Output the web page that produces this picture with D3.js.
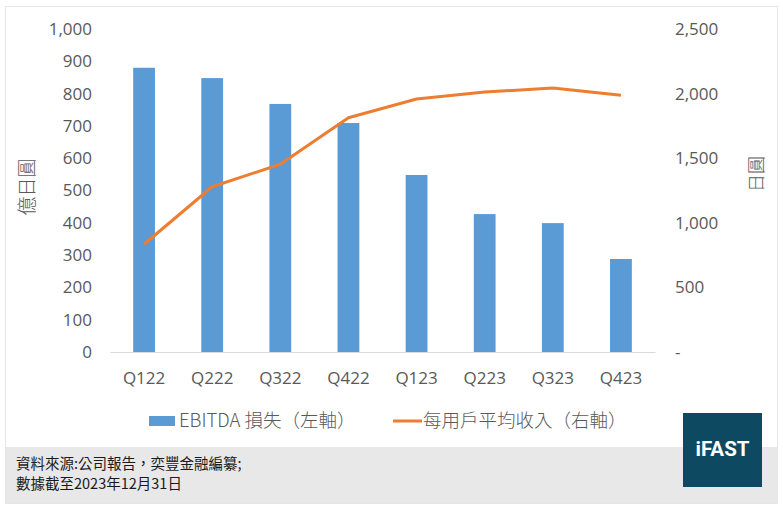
<!DOCTYPE html>
<html>
<head>
<meta charset="utf-8">
<script src="https://cdn.jsdelivr.net/npm/d3@7"></script>
<style>
    body { margin: 0; background: #ffffff; }
    svg { display: block; }
    .tickText { font-family: 'Open Sans', 'Liberation Sans', sans-serif; font-size: 17px; fill: #595959; }
    .cjkText { font-family: 'Noto Sans CJK TC', 'Noto Sans', sans-serif; fill: #595959; }
</style>
</head>
<body>
<div id="chart"></div>
<script>
// Chart values.
var quarters = ['Q122', 'Q222', 'Q322', 'Q422', 'Q123', 'Q223', 'Q323', 'Q423'],
    ebitdaLoss = [880, 848, 768, 709, 548, 427, 399, 288], // 億日圓, left axis
    arpu = [834, 1279, 1453, 1813, 1958, 2012, 2043, 1987], // 日圓, right axis
    leftTicks = [0, 100, 200, 300, 400, 500, 600, 700, 800, 900, 1000],
    rightTicks = [0, 500, 1000, 1500, 2000, 2500],
    seriesNames = ['EBITDA 損失（左軸）', '每用戶平均收入（右軸）'],
    leftTitle = '億日圓',
    rightTitle = '日圓',
    sourceLines = ['資料來源:公司報告，奕豐金融編纂;', '數據截至2023年12月31日'];

var width = 783,
    height = 507,
    colours = { bar: '#5b9bd5', line: '#ed7d31', text: '#595959', axis: '#d9d9d9' },
    plot = { left: 110, right: 655, top: 29, bottom: 352 };

var svg = d3.select( '#chart' )
    .append( 'svg' )
    .attr( 'width', width )
    .attr( 'height', height );

// Chart frame and grey source strip.
svg.append( 'rect' )
    .attr( 'x', 5.5 ).attr( 'y', 6.5 )
    .attr( 'width', 772 ).attr( 'height', 497 )
    .attr( 'fill', '#ffffff' )
    .attr( 'stroke', '#e6e6e6' );

svg.append( 'rect' )
    .attr( 'x', 6 ).attr( 'y', 447 )
    .attr( 'width', 771 ).attr( 'height', 56 )
    .attr( 'fill', '#e8e8e8' );

// Scales.
var x = d3.scaleBand()
    .domain( quarters )
    .range( [plot.left, plot.right] )
    .paddingInner( 0.68 )
    .paddingOuter( 0.34 );

var yLeft = d3.scaleLinear().domain( [0, 1000] ).range( [plot.bottom, plot.top] ),
    yRight = d3.scaleLinear().domain( [0, 2500] ).range( [plot.bottom, plot.top] );

// Bars.
svg.append( 'g' )
    .selectAll( 'rect' )
    .data( quarters )
    .join( 'rect' )
    .attr( 'x', q => x( q ) )
    .attr( 'y', ( q, i ) => yLeft( ebitdaLoss[i] ) )
    .attr( 'width', x.bandwidth() )
    .attr( 'height', ( q, i ) => yLeft( 0 ) - yLeft( ebitdaLoss[i] ) )
    .attr( 'fill', colours.bar );

// Axes.
var xAxis = svg.append( 'g' )
    .attr( 'transform', 'translate(0,' + plot.bottom + ')' )
    .call( d3.axisBottom( x ).tickSize( 0 ).tickPadding( 20 ) );
xAxis.select( '.domain' ).attr( 'stroke', colours.axis );

var leftAxis = svg.append( 'g' )
    .attr( 'transform', 'translate(92,0)' )
    .call( d3.axisLeft( yLeft ).tickValues( leftTicks ).tickSize( 0 ).tickPadding( 0 ).tickFormat( d3.format( ',' ) ) );

var rightAxis = svg.append( 'g' )
    .attr( 'transform', 'translate(675,0)' )
    .call( d3.axisRight( yRight ).tickValues( rightTicks ).tickSize( 0 ).tickPadding( 0 )
        .tickFormat( d => d === 0 ? ' -' : d3.format( ',' )( d ) ) );

[xAxis, leftAxis, rightAxis].forEach( function ( axis ) {
    axis.selectAll( 'text' ).attr( 'class', 'tickText' ).attr( 'font-family', null ).attr( 'font-size', null );
} );
leftAxis.select( '.domain' ).remove();
rightAxis.select( '.domain' ).remove();

// ARPU line.
var line = d3.line()
    .x( ( d, i ) => x( quarters[i] ) + x.bandwidth() / 2 )
    .y( d => yRight( d ) );

svg.append( 'path' )
    .datum( arpu )
    .attr( 'd', line )
    .attr( 'fill', 'none' )
    .attr( 'stroke', colours.line )
    .attr( 'stroke-width', 3 )
    .attr( 'stroke-linejoin', 'round' );

// Axis titles, rotated.
svg.append( 'text' )
    .attr( 'class', 'cjkText' )
    .attr( 'transform', 'translate(27,187) rotate(-90)' )
    .attr( 'text-anchor', 'middle' )
    .attr( 'dy', '0.35em' )
    .style( 'font-size', '19px' )
    .style( 'font-weight', 300 )
    .text( leftTitle );

svg.append( 'text' )
    .attr( 'class', 'cjkText' )
    .attr( 'transform', 'translate(757,174) rotate(-90)' )
    .attr( 'text-anchor', 'middle' )
    .attr( 'dy', '0.35em' )
    .style( 'font-size', '18px' )
    .style( 'font-weight', 300 )
    .text( rightTitle );

// Legend.
var legendPos = [149, 393];
var legend = svg.append( 'g' )
    .selectAll( 'g' )
    .data( seriesNames )
    .join( 'g' )
    .attr( 'transform', ( d, i ) => 'translate(' + legendPos[i] + ',421)' );

legend.each( function ( name, i ) {
    var g = d3.select( this );
    if ( i === 0 ) {
        g.append( 'rect' ).attr( 'x', 0 ).attr( 'y', -5 ).attr( 'width', 26 ).attr( 'height', 10 ).attr( 'fill', colours.bar );
    } else {
        g.append( 'line' ).attr( 'x1', 0 ).attr( 'x2', 29 ).attr( 'stroke', colours.line ).attr( 'stroke-width', 3 );
    }
    g.append( 'text' )
        .attr( 'class', 'cjkText' )
        .attr( 'x', 30 )
        .attr( 'dy', '0.35em' )
        .style( 'font-size', '18.5px' )
        .style( 'font-weight', 300 )
        .text( name );
} );

// Source note.
svg.append( 'g' )
    .selectAll( 'text' )
    .data( sourceLines )
    .join( 'text' )
    .attr( 'x', 16 )
    .attr( 'y', ( d, i ) => 464 + i * 20 )
    .attr( 'dy', '0.35em' )
    .attr( 'fill', '#1a1a1a' )
    .style( 'font-family', "'Noto Sans CJK TC', sans-serif" )
    .style( 'font-size', '14.5px' )
    .text( d => d );

// iFAST logo box.
svg.append( 'rect' )
    .attr( 'x', 683 ).attr( 'y', 413 )
    .attr( 'width', 79 ).attr( 'height', 74 )
    .attr( 'fill', '#0d4a62' );

svg.append( 'text' )
    .attr( 'x', 722.5 ).attr( 'y', 449 )
    .attr( 'dy', '0.35em' )
    .attr( 'text-anchor', 'middle' )
    .attr( 'fill', '#ffffff' )
    .style( 'font-family', 'Roboto, sans-serif' )
    .style( 'font-weight', 'bold' )
    .style( 'font-size', '20.5px' )
    .text( 'iFAST' );
</script>
</body>
</html>
